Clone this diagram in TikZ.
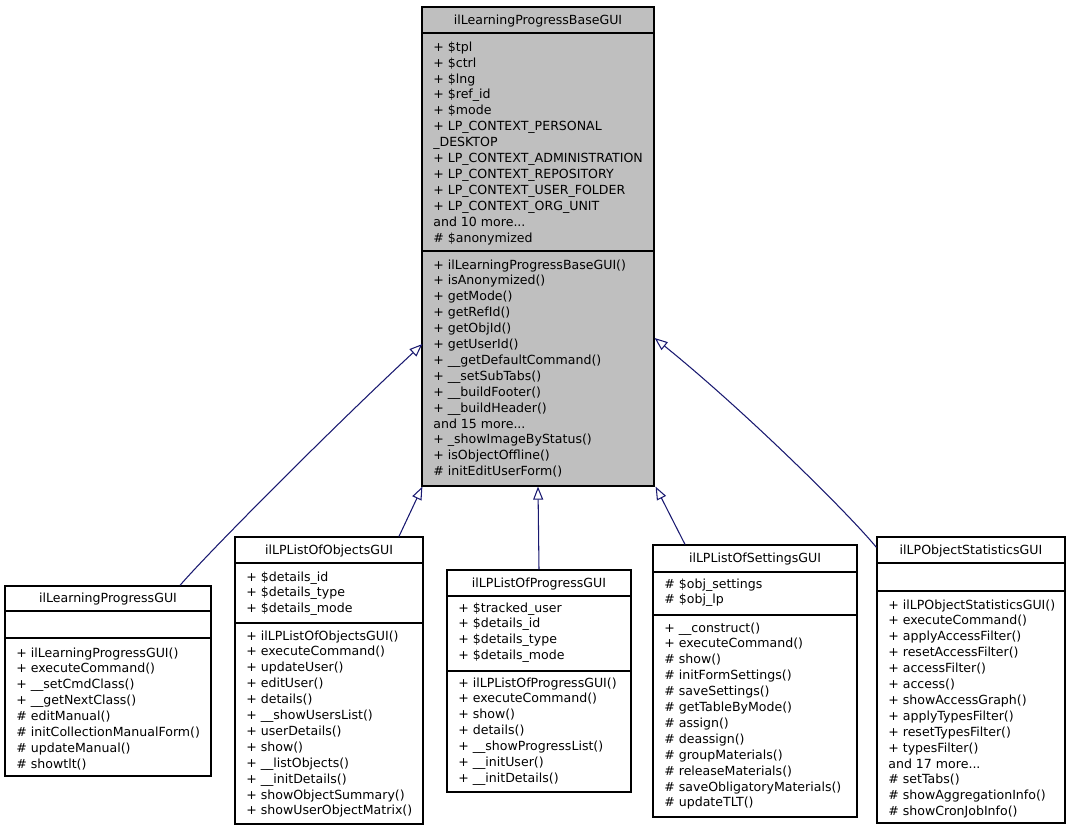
\documentclass[tikz,border=0pt]{standalone}
\usepackage{fontspec}
\setmainfont{DejaVu Sans}
\usetikzlibrary{arrows.meta}
\usetikzlibrary{calc}
\definecolor{edgeblue}{HTML}{191970}
\definecolor{basegray}{HTML}{BFBFBF}
\def\pxu{0.02cm}
\newcommand\tdots{...}
\tikzset{
  classbox/.style={draw=black, line width=0.7pt, fill=white, inner sep=0pt},
  member/.style={anchor=base west, inner sep=0pt, font=\fontsize{7.15}{9}\selectfont},
  classname/.style={anchor=base, inner sep=0pt, font=\fontsize{7.15}{9}\selectfont},
  sep/.style={line width=0.7pt},
  inherit/.style={edgeblue, line width=0.6pt, -{Triangle[open, length=0.26cm, width=0.2cm]}}
}

\begin{document}
\begin{tikzpicture}[x=0.02cm, y=-0.02cm]
  \useasboundingbox (0,0) rectangle (1072,832);

  % base class
  \node[classbox, fill=basegray, minimum width=232*\pxu, minimum height=479*\pxu] (base) at (538,246.5) {};
  \node[classname] (base-t) at (538,24) {ilLearningProgressBaseGUI};
  \draw[sep] (422,33) -- (654,33);
  \draw[sep] (422,251) -- (654,251);
  \foreach \t [count=\i] in {+ \$tpl, + \$ctrl, + \$lng, + \$ref\_id, + \$mode,
      + LP\_CONTEXT\_PERSONAL, \_DESKTOP, + LP\_CONTEXT\_ADMINISTRATION,
      + LP\_CONTEXT\_REPOSITORY, + LP\_CONTEXT\_USER\_FOLDER, + LP\_CONTEXT\_ORG\_UNIT,
      and 10 more\tdots, \# \$anonymized} {
    \node[member] (base-a\i) at (433,{51.2+(\i-1)*15.9}) {\t};
  }
  \foreach \t [count=\i] in {+ ilLearningProgressBaseGUI(), + isAnonymized(), + getMode(),
      + getRefId(), + getObjId(), + getUserId(), + \_\_getDefaultCommand(), + \_\_setSubTabs(),
      + \_\_buildFooter(), + \_\_buildHeader(), and 15 more\tdots, + \_showImageByStatus(),
      + isObjectOffline(), \# initEditUserForm()} {
    \node[member] (base-m\i) at (433,{269+(\i-1)*15.9}) {\t};
  }

  % ilLearningProgressGUI
  \node[classbox, minimum width=206*\pxu, minimum height=190*\pxu] (lpgui) at (108,681) {};
  \node[classname] (lpgui-t) at (108,602.5) {ilLearningProgressGUI};
  \draw[sep] (5,611) -- (211,611);
  \draw[sep] (5,638) -- (211,638);
  \foreach \t [count=\i] in {+ ilLearningProgressGUI(), + executeCommand(), + \_\_setCmdClass(),
      + \_\_getNextClass(), \# editManual(), \# initCollectionManualForm(), \# updateManual(),
      \# showtlt()} {
    \node[member] (lpgui-m\i) at (16,{657+(\i-1)*15.9}) {\t};
  }

  % ilLPListOfObjectsGUI
  \node[classbox, minimum width=188*\pxu, minimum height=287*\pxu] (objs) at (329,680.5) {};
  \node[classname] (objs-t) at (329,554) {ilLPListOfObjectsGUI};
  \draw[sep] (235,563) -- (423,563);
  \draw[sep] (235,623) -- (423,623);
  \foreach \t [count=\i] in {+ \$details\_id, + \$details\_type, + \$details\_mode} {
    \node[member] (objs-a\i) at (246,{581+(\i-1)*15.9}) {\t};
  }
  \foreach \t [count=\i] in {+ ilLPListOfObjectsGUI(), + executeCommand(), + updateUser(),
      + editUser(), + details(), + \_\_showUsersList(), + userDetails(), + show(),
      + \_\_listObjects(), + \_\_initDetails(), + showObjectSummary(), + showUserObjectMatrix()} {
    \node[member] (objs-m\i) at (246,{640+(\i-1)*15.9}) {\t};
  }

  % ilLPListOfProgressGUI
  \node[classbox, minimum width=184*\pxu, minimum height=222*\pxu] (prog) at (539,681) {};
  \node[classname] (prog-t) at (539,587) {ilLPListOfProgressGUI};
  \draw[sep] (447,596) -- (631,596);
  \draw[sep] (447,671) -- (631,671);
  \foreach \t [count=\i] in {+ \$tracked\_user, + \$details\_id, + \$details\_type, + \$details\_mode} {
    \node[member] (prog-a\i) at (458,{612+(\i-1)*15.9}) {\t};
  }
  \foreach \t [count=\i] in {+ ilLPListOfProgressGUI(), + executeCommand(), + show(), + details(),
      + \_\_showProgressList(), + \_\_initUser(), + \_\_initDetails()} {
    \node[member] (prog-m\i) at (458,{687+(\i-1)*15.9}) {\t};
  }

  % ilLPListOfSettingsGUI
  \node[classbox, minimum width=204*\pxu, minimum height=272*\pxu] (sets) at (755,681) {};
  \node[classname] (sets-t) at (755,562.5) {ilLPListOfSettingsGUI};
  \draw[sep] (653,572) -- (857,572);
  \draw[sep] (653,615) -- (857,615);
  \foreach \t [count=\i] in {\# \$obj\_settings, \# \$obj\_lp} {
    \node[member] (sets-a\i) at (664,{588+(\i-1)*15.9}) {\t};
  }
  \foreach \t [count=\i] in {+ \_\_construct(), + executeCommand(), \# show(), \# initFormSettings(),
      \# saveSettings(), \# getTableByMode(), \# assign(), \# deassign(), \# groupMaterials(),
      \# releaseMaterials(), \# saveObligatoryMaterials(), \# updateTLT()} {
    \node[member] (sets-m\i) at (664,{632+(\i-1)*15.9}) {\t};
  }

  % ilLPObjectStatisticsGUI
  \node[classbox, minimum width=188*\pxu, minimum height=286*\pxu] (stats) at (971,680) {};
  \node[classname] (stats-t) at (971,554) {ilLPObjectStatisticsGUI};
  \draw[sep] (877,563) -- (1065,563);
  \draw[sep] (877,591) -- (1065,591);
  \foreach \t [count=\i] in {+ ilLPObjectStatisticsGUI(), + executeCommand(), + applyAccessFilter(),
      + resetAccessFilter(), + accessFilter(), + access(), + showAccessGraph(), + applyTypesFilter(),
      + resetTypesFilter(), + typesFilter(), and 17 more\tdots, \# setTabs(), \# showAggregationInfo(),
      \# showCronJobInfo()} {
    \node[member] (stats-m\i) at (888,{609+(\i-1)*15.9}) {\t};
  }

  % inheritance
  \draw[inherit] ($(lpgui.north)+(72,0)$) .. controls (205,556) and (330,430) .. ($(base.west)+(1,97.5)$);
  \draw[inherit] ($(objs.north)+(70,0)$) -- ($(base.south west)+(1,0)$);
  \draw[inherit] (prog.north) -- (base.south);
  \draw[inherit] ($(sets.north)+(-70,0)$) -- ($(base.south east)+(1,0)$);
  \draw[inherit] ($(stats.north west)+(0,11)$) .. controls (850,515) and (745,411) .. ($(base.east)+(0,91.5)$);
\end{tikzpicture}
\end{document}
